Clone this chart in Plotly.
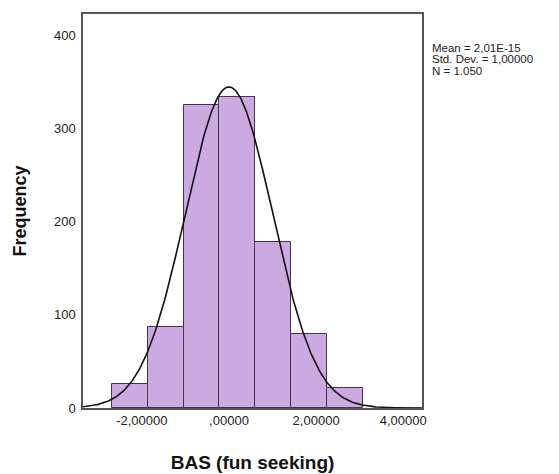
import numpy as np
import plotly.graph_objects as go

# histogram bins (BAS fun seeking, standardised)
bin_centers = [-2.28, -1.455, -0.632, 0.191, 1.014, 1.837, 2.66]
bin_counts = [26, 87, 325, 334, 178, 79, 21]
bin_width = 0.823

mean = 0.0
std_dev = 1.0
n_total = 1050

x_ticks = [-2, 0, 2, 4]
x_tick_labels = ["-2,00000", ",00000", "2,00000", "4,00000"]
y_ticks = [0, 100, 200, 300, 400]

stats_lines = ["Mean = 2,01E-15", "Std. Dev. = 1,00000", "N = 1.050"]

x_range = [-3.35, 4.43]
y_range = [0, 423]

# normal curve scaled to the histogram
curve_x = np.linspace(x_range[0], x_range[1], 400)
curve_y = n_total * bin_width * np.exp(-0.5 * ((curve_x - mean) / std_dev) ** 2) / (std_dev * np.sqrt(2 * np.pi))

font_family = "Arial, Liberation Sans, sans-serif"

fig = go.Figure()

fig.add_trace(go.Bar(
    x=bin_centers,
    y=bin_counts,
    width=bin_width,
    marker=dict(color="#CCA9E1", line=dict(color="#433649", width=1)),
    hoverinfo="x+y",
))

fig.add_trace(go.Scatter(
    x=curve_x,
    y=curve_y,
    mode="lines",
    line=dict(color="#111111", width=1.6),
    hoverinfo="skip",
))

# stats box at the right (page has an 8px body margin, so the figure is drawn 8px in)
plot_top = 4
plot_h = 402
for i, line in enumerate(stats_lines):
    fig.add_annotation(
        text=line,
        xref="paper", yref="paper",
        x=1.0236, y=1 - (38.5 + i * 11.8 - plot_top) / plot_h,
        xanchor="left", yanchor="middle",
        showarrow=False,
        font=dict(family=font_family, size=11.5, color="#222222"),
    )

fig.update_layout(
    width=551,
    height=466,
    margin=dict(l=75, r=137, t=plot_top, b=64),
    plot_bgcolor="white",
    paper_bgcolor="white",
    showlegend=False,
    bargap=0,
    font=dict(family=font_family, size=13, color="#222222"),
)

fig.update_xaxes(
    range=x_range,
    tickvals=x_ticks,
    ticktext=x_tick_labels,
    showgrid=False,
    zeroline=False,
    showline=True,
    mirror=True,
    linecolor="#555555",
    linewidth=1.5,
    ticks="",
    tickfont=dict(size=13),
    title=dict(text="<b>BAS (fun seeking)</b>", font=dict(size=19, color="#111111"), standoff=28),
)

fig.update_yaxes(
    range=y_range,
    tickvals=y_ticks,
    showgrid=False,
    zeroline=False,
    showline=True,
    mirror=True,
    linecolor="#555555",
    linewidth=1.5,
    ticks="",
    ticklabelstandoff=3,
    tickfont=dict(size=13),
    title=dict(text="<b>Frequency</b>", font=dict(size=18, color="#111111"), standoff=23),
)

fig.write_html("out.html")
